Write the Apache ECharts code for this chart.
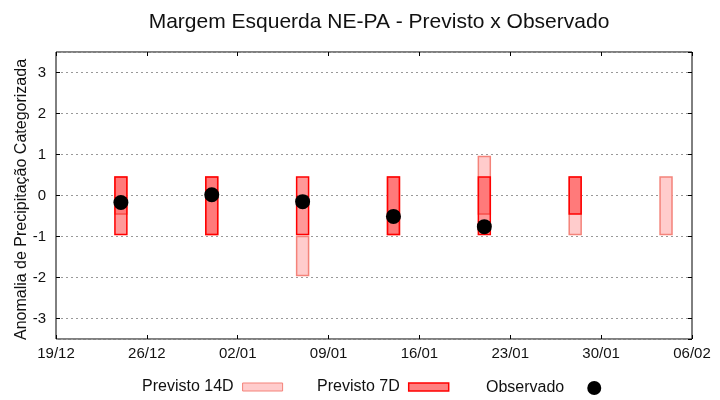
<!DOCTYPE html>
<html>
<head>
<meta charset="utf-8">
<script src="https://cdn.jsdelivr.net/npm/echarts@6/dist/echarts.min.js"></script>
<style>html,body{margin:0;padding:0;background:#fff}#c{width:720px;height:400px}</style>
</head>
<body>
<div id="c"></div>
<script>
// ---- data ----
const tickLabels = ['19/12','26/12','02/01','09/01','16/01','23/01','30/01','06/02'];
const weeks = ['24/12','31/12','07/01','14/01','21/01','28/01','04/02'];
const prev14Low  = [-0.45, -0.95, -1.95, -0.95, -0.45, -0.95, -0.95];
const prev14High = [ 0.45,  0.45, -1.00,  0.45,  0.95,  0.45,  0.45];
const prev7Low   = [-0.95, -0.95, -0.95, -0.95, -0.95, -0.45, null];
const prev7High  = [ 0.45,  0.45,  0.45,  0.45,  0.45,  0.45, null];
const observed   = [-0.17,  0.02, -0.15, -0.51, -0.76, null, null];

// day offset from 19/12
function dayOffset(lbl){
  const [d,m] = lbl.split('/').map(Number);
  const base = Date.UTC(2023,11,19);
  const y = m === 12 ? 2023 : 2024;
  return Math.round((Date.UTC(y,m-1,d) - base)/86400000);
}
const xs = weeks.map(dayOffset);
const xMax = dayOffset(tickLabels[tickLabels.length-1]);

const halfW = 0.46;
function boxRender(fill, stroke){
  return function(params, api){
    const x = api.value(0), lo = api.value(1), hi = api.value(2);
    if (isNaN(lo) || isNaN(hi)) return null;
    const p1 = api.coord([x - halfW, hi]);
    const p2 = api.coord([x + halfW, lo]);
    return {
      type: 'rect',
      shape: {x: p1[0], y: p1[1], width: p2[0]-p1[0], height: p2[1]-p1[1]},
      style: {fill: fill, stroke: stroke, lineWidth: 1.5}
    };
  };
}
const d14 = xs.map((x,i)=>[x, prev14Low[i], prev14High[i]]);
const d7 = xs.map((x,i)=>[x, prev7Low[i] == null ? '-' : prev7Low[i], prev7High[i] == null ? '-' : prev7High[i]]);
const dObs = xs.map((x,i)=> observed[i] == null ? null : [x, observed[i]]).filter(Boolean);

const font = 'Liberation Sans, Arial, sans-serif';
const chart = echarts.init(document.getElementById('c'), null, {renderer:'canvas'});
const legendCommon = {
  top: 379, align: 'right', orient: 'horizontal', padding: 0,
  textStyle: {fontFamily: font, fontSize: 16, color: '#111', padding: [0, 4, 0, 0]},
  selectedMode: false
};
const tickStyle = {show: true, inside: true, length: 4, lineStyle: {color: '#000'}};
chart.setOption({
  animation: false,
  backgroundColor: '#fff',
  title: {
    text: 'Margem Esquerda NE-PA - Previsto x Observado',
    left: 374, textAlign: 'center', top: 7,
    textStyle: {fontFamily: font, fontSize: 21, fontWeight: 'normal', color: '#111'}
  },
  legend: [
    Object.assign({}, legendCommon, {left: 142, itemWidth: 40, itemHeight: 8,
      data: [{name: 'Previsto 14D', icon: 'rect', itemStyle: {color: '#ffcccc', borderColor: '#f4837a', borderWidth: 1}}]}),
    Object.assign({}, legendCommon, {left: 317, itemWidth: 40, itemHeight: 8,
      data: [{name: 'Previsto 7D', icon: 'rect', itemStyle: {color: '#ff8080', borderColor: '#ff0000', borderWidth: 1.5}}]}),
    Object.assign({}, legendCommon, {left: 486, itemWidth: 14, itemHeight: 14, top: 380,
      textStyle: {fontFamily: font, fontSize: 16, color: '#111', padding: [0, 18, 0, 0]},
      data: [{name: 'Observado', icon: 'circle', itemStyle: {color: '#000', opacity: 1}}]})
  ],
  grid: {left: 56, right: 28, top: 52, bottom: 61, show: true, borderColor: '#000', borderWidth: 1,
         backgroundColor: 'transparent', containLabel: false, outerBoundsMode: 'none'},
  xAxis: [{
    type: 'value', min: 0, max: xMax, interval: 7,
    axisLine: {show: false, onZero: false},
    axisTick: tickStyle,
    splitLine: {show: false},
    axisLabel: {
      margin: 7, fontFamily: font, fontSize: 15, color: '#111',
      formatter: v => tickLabels[Math.round(v/7)] || ''
    }
  },{
    type: 'value', position: 'top', min: 0, max: xMax, interval: 7,
    axisLine: {show: false, onZero: false},
    axisTick: tickStyle,
    splitLine: {show: false}, axisLabel: {show: false}
  }],
  yAxis: [{
    type: 'value', min: -3.5, max: 3.5, splitNumber: 7,
    name: 'Anomalia de Precipitação Categorizada', nameLocation: 'middle', nameGap: 26,
    nameMoveOverlap: false,
    nameTextStyle: {fontFamily: font, fontSize: 16, color: '#111', padding: [0, 8, 0, 0]},
    axisLine: {show: false, onZero: false},
    axisTick: tickStyle,
    axisLabel: {showMinLabel: false, showMaxLabel: false, margin: 10, fontFamily: font, fontSize: 15, color: '#111'},
    splitLine: {show: true, lineStyle: {color: '#999', type: [2, 3], width: 1}}
  },{
    type: 'value', position: 'right', min: -3.5, max: 3.5, splitNumber: 7,
    axisLine: {show: false, onZero: false},
    axisTick: tickStyle,
    axisLabel: {show: false}, splitLine: {show: false}
  }],
  series: [
    {name: 'Previsto 14D', type: 'custom', renderItem: boxRender('#ffcccc', '#f4837a'),
     itemStyle: {color: '#ffcccc'}, encode: {x: 0, y: [1, 2]}, data: d14, z: 2},
    {name: 'Previsto 7D', type: 'custom', renderItem: boxRender('rgba(255,0,0,0.4)', '#ff0000'),
     itemStyle: {color: '#ff8080'}, encode: {x: 0, y: [1, 2]}, data: d7, z: 3},
    {name: 'Observado', type: 'scatter', symbol: 'circle', symbolSize: 15,
     itemStyle: {color: '#000', opacity: 1}, data: dObs, z: 4}
  ]
});
</script>
</body>
</html>
